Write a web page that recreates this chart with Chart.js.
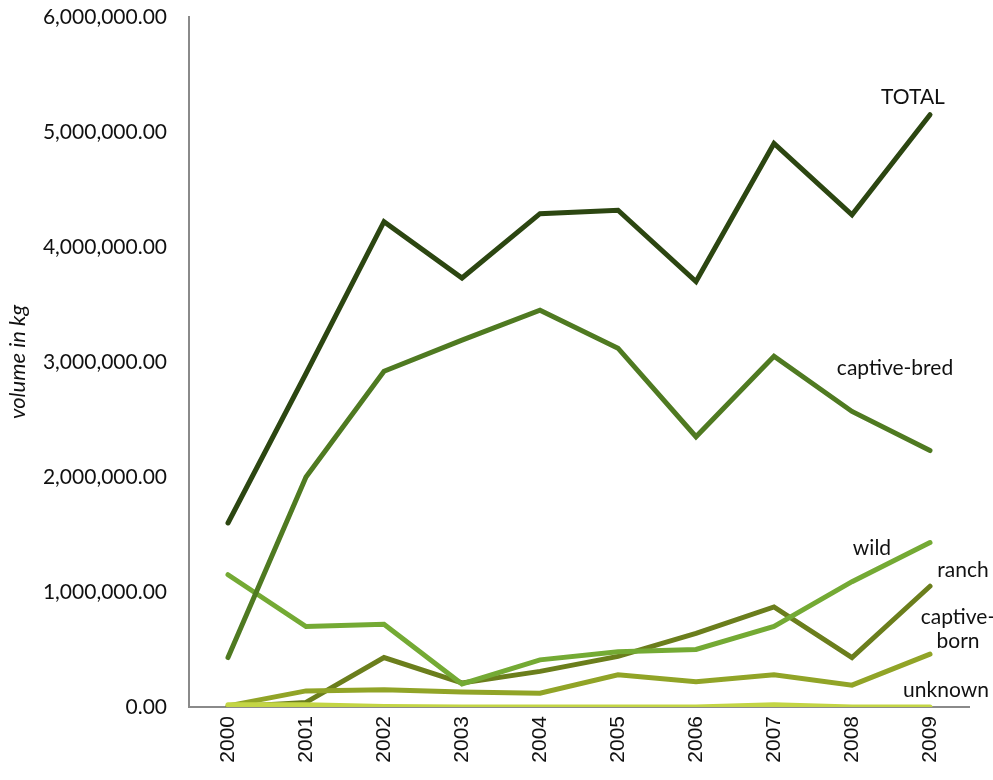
<!DOCTYPE html>
<html>
<head>
<meta charset="utf-8">
<script src="https://cdn.jsdelivr.net/npm/chart.js@4.4.1/dist/chart.umd.min.js"></script>
<style>
  html, body { margin: 0; padding: 0; background: #fff; }
  #wrap { width: 993px; height: 780px; position: relative; }
</style>
</head>
<body>
<div id="wrap"><canvas id="volumeChart"></canvas></div>
<script>
// years on the x axis
const years = ['2000', '2001', '2002', '2003', '2004', '2005', '2006', '2007', '2008', '2009'];

// volume in kg
const totalKg       = [1600000, 2900000, 4220000, 3730000, 4290000, 4320000, 3700000, 4900000, 4280000, 5150000];
const captiveBredKg = [430000, 2000000, 2920000, 3190000, 3450000, 3120000, 2350000, 3050000, 2570000, 2230000];
const wildKg        = [1150000, 700000, 720000, 200000, 410000, 480000, 500000, 700000, 1090000, 1430000];
const ranchKg       = [0, 40000, 430000, 210000, 310000, 440000, 640000, 870000, 430000, 1050000];
const captiveBornKg = [10000, 140000, 150000, 130000, 120000, 280000, 220000, 280000, 190000, 460000];
const unknownKg     = [20000, 20000, 5000, 0, 0, 0, 0, 20000, 0, 0];

const yTicks = [0, 1000000, 2000000, 3000000, 4000000, 5000000, 6000000];

// labels written at the end of each line
const endLabels = {
    'TOTAL':        { lines: ['TOTAL'], dx: -17, dy: -18 },
    'captive-bred': { lines: ['captive-bred'], dx: -35, dy: -82 },
    'wild':         { lines: ['wild'], dx: -58, dy: 6 },
    'ranch':        { lines: ['ranch'], dx: 33, dy: -16 },
    'captive-born': { lines: ['captive-', 'born'], dx: 28, dy: -37 },
    'unknown':      { lines: ['unknown'], dx: 16, dy: -17 }
};

const endLabelPlugin = {
    id: 'endLabels',
    afterDatasetsDraw(chart) {
        const c = chart.ctx;
        c.save();
        c.font = '21px Lato';
        c.fillStyle = '#111';
        c.textAlign = 'center';
        c.textBaseline = 'middle';
        chart.data.datasets.forEach((ds, i) => {
            const info = endLabels[ds.label];
            const meta = chart.getDatasetMeta(i);
            const last = meta.data[meta.data.length - 1];
            if (!info || !last) return;
            info.lines.forEach((line, k) => {
                c.fillText(line, last.x + info.dx, last.y + info.dy + k * 24);
            });
        });
        c.restore();
    }
};

function series(label, data, color) {
    return {
        label: label,
        data: data,
        borderColor: color,
        backgroundColor: color,
        borderWidth: 5,
        borderCapStyle: 'round',
        borderJoinStyle: 'miter',
        pointRadius: 0,
        tension: 0
    };
}

document.addEventListener('DOMContentLoaded', function() {
    const ctx = document.getElementById('volumeChart');
    new Chart(ctx, {
        type: 'line',
        data: {
            labels: years,
            datasets: [
                series('unknown', unknownKg, '#c3d545'),
                series('TOTAL', totalKg, '#2c4611'),
                series('captive-bred', captiveBredKg, '#4f7a21'),
                series('wild', wildKg, '#74aa34'),
                series('captive-born', captiveBornKg, '#91a427'),
                series('ranch', ranchKg, '#6b7e1c')
            ]
        },
        options: {
            responsive: true,
            maintainAspectRatio: false,
            animation: false,
            layout: { padding: { top: 17, right: 24, left: 0, bottom: 0 } },
            plugins: {
                legend: { display: false },
                tooltip: { enabled: false }
            },
            scales: {
                x: {
                    offset: true,
                    grid: { display: false, drawTicks: false },
                    border: { display: true, color: '#8a8a8a', width: 2 },
                    ticks: {
                        minRotation: 90,
                        maxRotation: 90,
                        padding: 9,
                        color: '#111',
                        font: { family: 'Liberation Sans', size: 21 }
                    },
                    afterFit(axis) { axis.height = 73; }
                },
                y: {
                    min: 0,
                    max: 6000000,
                    afterBuildTicks(axis) { axis.ticks = yTicks.map(v => ({ value: v })); },
                    grid: { display: false, drawTicks: false },
                    border: { display: true, color: '#8a8a8a', width: 2 },
                    ticks: {
                        padding: 22,
                        color: '#111',
                        font: { family: 'Lato', size: 21 },
                        callback: v => Number(v).toLocaleString('en-US', { minimumFractionDigits: 2, maximumFractionDigits: 2 })
                    },
                    title: {
                        display: true,
                        text: 'volume in kg',
                        color: '#111',
                        padding: { top: 5, bottom: 0 },
                        font: { family: 'Lato', size: 22, style: 'italic' }
                    },
                    afterFit(axis) {
                        axis.width = 189;
                        axis.paddingTop = 0;
                        axis.paddingBottom = 0;
                    }
                }
            }
        },
        plugins: [endLabelPlugin]
    });
});
</script>
</body>
</html>
